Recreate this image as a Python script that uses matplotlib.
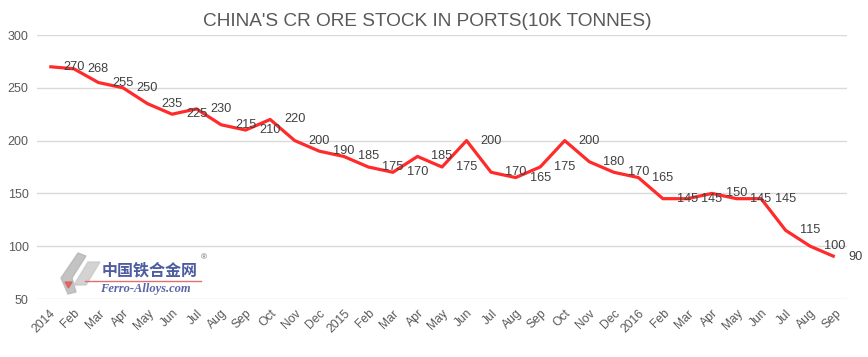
import matplotlib
matplotlib.use("Agg")
import matplotlib.pyplot as plt
from matplotlib.patches import Polygon
import numpy as np

plt.rcParams['font.family'] = ['Liberation Sans', 'DejaVu Sans']

# month labels, 2014 Jan .. 2016 Sep
months = ["Feb", "Mar", "Apr", "May", "Jun", "Jul", "Aug", "Sep", "Oct", "Nov", "Dec"]
labels = ["2014"] + months + ["2015"] + months + ["2016"] + months[:8]

# stock in ports (10k tonnes)
stock = [270, 268, 255, 250, 235, 225, 230, 215, 210, 220, 200, 190,
         185, 175, 170, 185, 175, 200, 170, 165, 175, 200, 180, 170,
         165, 145, 145, 150, 145, 145, 115, 100, 90]

yticks = [50, 100, 150, 200, 250, 300]

fig = plt.figure(figsize=(8.68, 3.57), dpi=100)
ax = fig.add_axes([37/868, 1 - 299/357, 810/868, 264/357])

x = np.arange(len(stock))
ax.plot(x, stock, color="#ff2a2a", lw=2.3, solid_capstyle="butt", zorder=3)

# data labels to the right of each point
for xi, v in zip(x, stock):
    ax.annotate(str(v), (xi, v), xytext=(10, 0), textcoords="offset points",
                ha="left", va="center", fontsize=9.2, color="#404040", zorder=4)

ax.set_xlim(-0.5, len(stock) - 0.5)
ax.set_ylim(50, 300)
ax.set_yticks(yticks)
ax.set_yticklabels([str(t) for t in yticks], fontsize=9, color="#595959")
ax.set_xticks(x)
ax.set_xticklabels(labels, fontsize=8.7, color="#595959", rotation=45,
                   ha="right", va="top", rotation_mode="anchor")
ax.tick_params(length=0, pad=6)
ax.grid(axis="y", color="#d9d9d9", lw=1)
ax.set_axisbelow(True)
for s in ax.spines.values():
    s.set_visible(False)

fig.text(427/868, 1 - 22/357, "CHINA'S CR ORE STOCK IN PORTS(10K TONNES)",
         ha="center", va="center", fontsize=13.7, color="#595959")

# watermark logo (gray shape + text)
def px(pts):
    return [(a / 868, 1 - b / 357) for a, b in pts]

fig.add_artist(Polygon(px([(61, 278), (78, 253), (86, 256), (72, 278), (76, 292), (68, 294)]),
                       closed=True, color="#b5b5b5", alpha=0.8, transform=fig.transFigure))
fig.add_artist(Polygon(px([(74, 285), (88, 262), (100, 262), (86, 285)]),
                       closed=True, color="#c8c8c8", alpha=0.8, transform=fig.transFigure))
fig.add_artist(Polygon(px([(65, 282), (72, 282), (68.5, 288)]),
                       closed=True, color="#e06060", alpha=0.9, transform=fig.transFigure))
fig.text(150/868, 1 - 270/357, "中国铁合金网", family=["Noto Sans CJK SC", "DejaVu Sans"],
         fontsize=11.5, fontweight="bold", color="#2f3f8f", ha="center", va="center", alpha=0.85)
fig.text(204/868, 1 - 258/357, "®", fontsize=6, color="#666666", ha="center", va="center")
fig.add_artist(plt.Line2D([85/868, 201/868], [1 - 281/357, 1 - 281/357], color="#e07070", lw=1))
fig.text(145/868, 1 - 289/357, "Ferro-Alloys.com", family="Liberation Serif",
         fontsize=9, fontweight="bold", style="italic", color="#3a4a9a", ha="center", va="center", alpha=0.85)

fig.savefig("out.png", dpi=100)
